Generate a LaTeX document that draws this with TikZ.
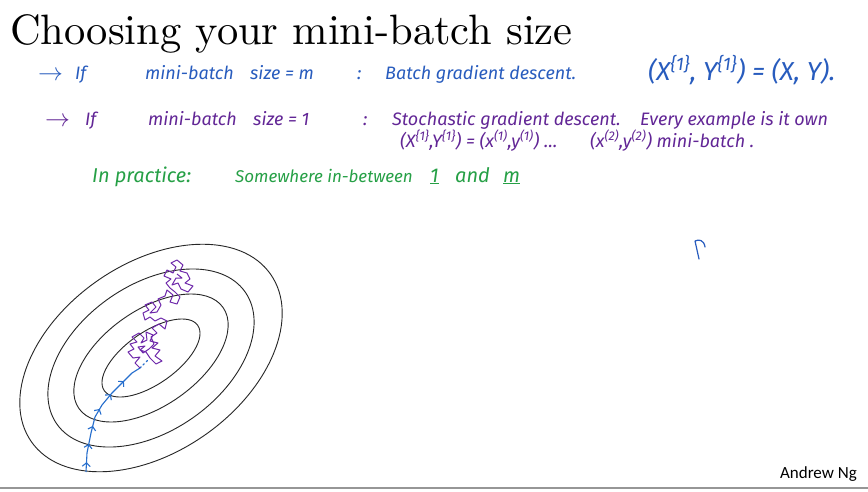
\documentclass[tikz,border=0pt]{standalone}
\usepackage{fontspec}
\setmainfont{Latin Modern Roman}
\newfontfamily\titlefont{lmroman10-regular.otf}
\newfontfamily\handfont{Fira Sans}
\newfontfamily\labelfont{Carlito}
\usetikzlibrary{arrows.meta,decorations.markings}

\definecolor{inkblue}{RGB}{40,92,190}
\definecolor{inkpurple}{RGB}{98,38,150}
\definecolor{inkgreen}{RGB}{38,160,70}
\definecolor{pathblue}{RGB}{38,110,205}
\definecolor{walkpurple}{RGB}{110,40,170}
\definecolor{rulegray}{RGB}{150,150,150}

\tikzset{
  hand/.style={anchor=base west, inner sep=0pt, font=\handfont\itshape\fontsize{18}{20}\selectfont},
  bluetext/.style={hand, text=inkblue},
  purpletext/.style={hand, text=inkpurple},
  greentext/.style={hand, text=inkgreen, font=\handfont\itshape\fontsize{20}{22}\selectfont},
  pen arrow/.style={hand, font=\fontsize{24}{24}\selectfont},
  contour/.style={draw=black!85, line width=0.9pt},
  descent/.style={draw=pathblue, line width=1.1pt, line join=round,
    postaction={decorate},
    decoration={markings,
      mark=between positions 0.08 and 0.92 step 0.15 with {\arrow{Straight Barb[length=3.5pt,width=8pt]}}}},
  walk/.style={draw=walkpurple, line width=1pt, line join=round},
}

\begin{document}
\begin{tikzpicture}[x=1pt,y=-1pt]
  \useasboundingbox (0,0) rectangle (868,491);
  \fill[white] (0,0) rectangle (868,491);

  % title
  \node[anchor=base west, inner sep=0pt, font=\titlefont\fontsize{42.5}{46}\selectfont] (title) at (10,44) {Choosing your mini-batch size};

  % batch gradient descent line
  \node[pen arrow, text=inkblue] (a1) at (38,80) {$\rightarrow$};
  \node[bluetext] (a2) at (75,79) {If};
  \node[bluetext] (a3) at (145,79) {mini-batch};
  \node[bluetext] (a4) at (250,79) {size = m};
  \node[bluetext] (a5) at (357,79) {:};
  \node[bluetext] (a6) at (385,79) {Batch gradient descent.};
  \node[bluetext, font=\handfont\itshape\fontsize{26}{28}\selectfont] (a7) at (648,80) {(X\textsuperscript{\{1\}}, Y\textsuperscript{\{1\}}) = (X, Y).};

  % stochastic gradient descent line
  \node[pen arrow, text=inkpurple] (b1) at (45,126) {$\rightarrow$};
  \node[purpletext] (b2) at (85,125) {If};
  \node[purpletext] (b3) at (148,125) {mini-batch};
  \node[purpletext] (b4) at (253,125) {size = 1};
  \node[purpletext] (b5) at (363,125) {:};
  \node[purpletext] (b6) at (392,125) {Stochastic gradient descent.};
  \node[purpletext] (b7) at (640,125) {Every example is it own};
  \node[purpletext] (b8) at (400,147) {(X\textsuperscript{\{1\}},Y\textsuperscript{\{1\}}) = (x\textsuperscript{(1)},y\textsuperscript{(1)}) \dots};
  \node[purpletext] (b9) at (590,147) {(x\textsuperscript{(2)},y\textsuperscript{(2)}) mini-batch .};

  % in practice line
  \node[greentext] (c1) at (92,182) {In practice:};
  \node[greentext, font=\handfont\itshape\fontsize{17}{20}\selectfont] (c2) at (235,182) {Somewhere in-between};
  \node[greentext] (c4) at (430,182) {\underline{1}};
  \node[greentext] (c5) at (455,182) {and};
  \node[greentext] (c6) at (503,182) {\underline{m}};

  % stray pen stroke
  \draw[inkblue, line width=1.2pt, line cap=round, line join=round]
    (699,259) -- (695,241) .. controls (699,239) and (704,240) .. (705,247);

  % cost contours
  \foreach \a/\b in {57/26, 88/48, 115/73, 146/94}
    \draw[contour, rotate around={35:(151,358)}] (151,358) ellipse [x radius=\a pt, y radius=\b pt];

  % batch gradient descent trajectory
  \coordinate (s0) at (86,472);
  \coordinate (s1) at (140,368);
  \coordinate (s2) at (148,360);
  \draw[descent] (s0) -- (87,453) -- (91,433) -- (95,417) -- (102,405) -- (112,393)
    -- (122,383) -- (132,373) -- (s1);
  \draw[pathblue, line width=1.3pt, dash pattern=on 1.5pt off 3pt, line cap=round] (s1) -- (s2);

  % stochastic gradient descent trajectory
  \draw[walk] (s1) -- (135,363) -- (140,357) -- (133,358) -- (128,352) -- (134,349)
    -- (130,344) -- (137,342) -- (132,337) -- (139,333) -- (144,338) -- (141,343)
    -- (147,340) -- (146,332) -- (153,335) -- (150,341) -- (158,343) -- (152,348)
    -- (160,350) -- (155,356) -- (162,361) -- (156,364) -- (150,358) -- (146,352)
    -- (140,350) -- (145,346) -- (138,347) -- (143,353) -- (149,349) -- (154,344)
    -- (151,337) -- (157,333) -- (152,328) -- (159,324) -- (165,329) -- (167,321)
    -- (161,318) -- (155,321) -- (150,317) -- (145,320) -- (143,313) -- (149,310)
    -- (145,305) -- (152,302) -- (156,307) -- (150,313) -- (157,312) -- (161,305)
    -- (158,299) -- (165,296) -- (167,290) -- (173,295) -- (170,302) -- (177,304)
    -- (180,297) -- (175,292) -- (170,288) -- (166,283) -- (171,279) -- (164,276)
    -- (167,270) -- (173,273) -- (176,267) -- (171,263) -- (177,260) -- (183,265)
    -- (180,271) -- (187,273) -- (190,279) -- (185,283) -- (193,286) -- (188,292)
    -- (181,289) -- (178,283) -- (172,285) -- (176,278) -- (182,278) -- (177,274);

  % footer
  \node[anchor=base east, inner sep=0pt, font=\labelfont\fontsize{17}{19}\selectfont] (author) at (857,478) {Andrew Ng};
  \draw[rulegray, line width=1.5pt] (0,488) -- (868,488);
\end{tikzpicture}
\end{document}
